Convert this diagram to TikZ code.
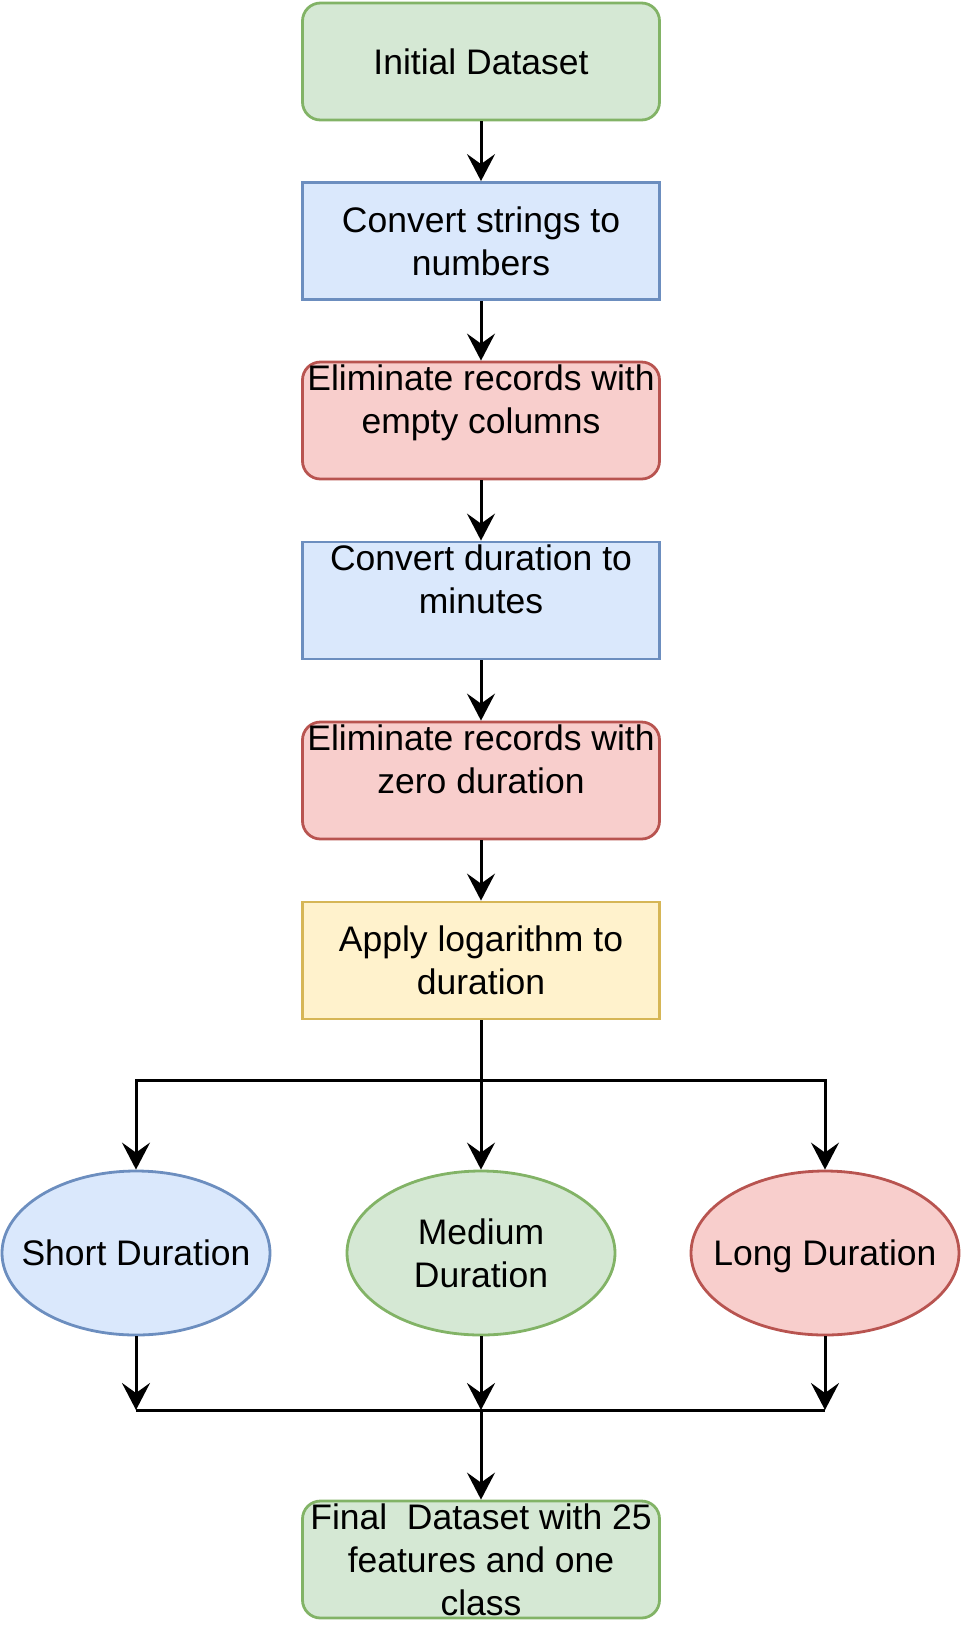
\documentclass[tikz,border=0pt]{standalone}
\usepackage{fontspec}
\setmainfont{Liberation Sans}
\usetikzlibrary{shapes.geometric,arrows.meta}
\definecolor{gfill}{HTML}{D5E8D4}\definecolor{gline}{HTML}{82B366}
\definecolor{bfill}{HTML}{DAE8FC}\definecolor{bline}{HTML}{6C8EBF}
\definecolor{rfill}{HTML}{F8CECC}\definecolor{rline}{HTML}{B85450}
\definecolor{yfill}{HTML}{FFF2CC}\definecolor{yline}{HTML}{D6B656}
\tikzset{
  boxbase/.style={rectangle, minimum width=357pt, minimum height=117pt, inner sep=0pt, align=center, line width=2.8pt,
    font=\fontsize{35.5}{43}\selectfont},
  greenbox/.style={boxbase, rounded corners=18pt, fill=gfill, draw=gline},
  bluebox/.style={boxbase, fill=bfill, draw=bline},
  redbox/.style={boxbase, rounded corners=18pt, fill=rfill, draw=rline},
  yellowbox/.style={boxbase, fill=yfill, draw=yline},
  ellbase/.style={ellipse, minimum width=268pt, minimum height=164pt, inner sep=0pt, line width=2.8pt},
  elltext/.style={align=center, inner sep=0pt, font=\fontsize{35.5}{43}\selectfont},
  onelinetext/.style={elltext, text height=25.5pt, text depth=0pt},
  arr/.style={line width=3pt, -{Stealth[length=27pt,width=28pt,inset=10pt]}},
  ln/.style={line width=3pt}
}
\begin{document}
\begin{tikzpicture}[x=1pt,y=-1pt]
\useasboundingbox (0,0) rectangle (963,1626);
\node[greenbox] (init) at (481,61.5) {Initial Dataset};
\node[bluebox] (conv) at (481,241) {\fontsize{35.5}{44.5}\selectfont Convert strings to\\numbers};
\node[redbox] (elim1) at (481,420.5) {Eliminate records with\\empty columns\\\mbox{}};
\node[bluebox] (convdur) at (481,600.5) {Convert duration to\\minutes\\\mbox{}};
\node[redbox] (elim2) at (481,780.5) {Eliminate records with\\zero duration\\\mbox{}};
\node[yellowbox] (log) at (481,960.5) {\fontsize{35.5}{44.5}\selectfont Apply logarithm to\\duration};
\node[ellbase, fill=bfill, draw=bline] (short) at (136,1253) {};
\node[onelinetext] (shortt) at (short.center) {Short Duration};
\node[ellbase, fill=gfill, draw=gline] (med) at (481,1253) {};
\node[elltext] (medt) at (med.center) {Medium\\Duration};
\node[ellbase, fill=rfill, draw=rline] (long) at (825,1253) {};
\node[onelinetext] (longt) at (long.center) {Long Duration};
\node[greenbox] (final) at (481,1559.5) {Final\ \ Dataset with 25\\features and one\\class};
\coordinate (b) at (481,1080);
\coordinate (m) at (481,1410);
\draw[arr] (init) -- (conv);
\draw[arr] (conv) -- (elim1);
\draw[arr] (elim1) -- (convdur);
\draw[arr] (convdur) -- (elim2);
\draw[arr] (elim2) -- (log);
\draw[ln] (log.south) -- (b);
\draw[arr] (b) -| (short.north);
\draw[arr] (b) -- (med.north);
\draw[arr] (b) -| (long.north);
\draw[arr] (short.south) -- (short.south |- m);
\draw[arr] (med.south) -- (m);
\draw[arr] (long.south) -- (long.south |- m);
\draw[ln] (short.south |- m) -- (long.south |- m);
\draw[arr] (m) -- (final.north);
\end{tikzpicture}
\end{document}
